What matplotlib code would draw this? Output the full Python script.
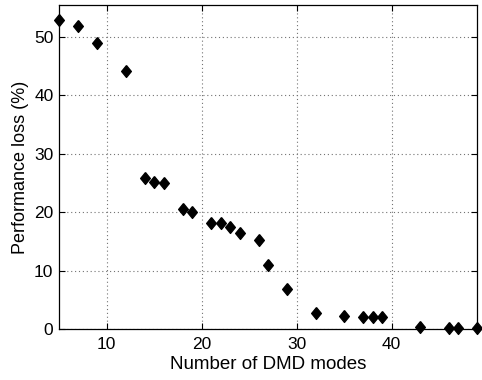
import numpy as np
import matplotlib
matplotlib.use("Agg")
import matplotlib.pyplot as plt

plt.rcParams['font.family'] = ['Liberation Sans', 'DejaVu Sans']

# number of retained DMD modes and the resulting performance loss
n_modes = [5, 7, 9, 12, 14, 15, 16, 18, 19, 21, 22, 23, 24, 26, 27, 29,
           32, 35, 37, 38, 39, 43, 46, 47, 49]
perf_loss = [52.8, 51.8, 49.0, 44.1, 25.9, 25.2, 25.0, 20.5, 20.0, 18.1,
             18.1, 17.4, 16.5, 15.2, 11.0, 6.8, 2.8, 2.2, 2.0, 2.0, 2.0,
             0.4, 0.2, 0.2, 0.1]

# MATLAB-like diamond, slightly taller than wide
diamond = [(0, 1), (0.82, 0), (0, -1), (-0.82, 0), (0, 1)]

fig = plt.figure(figsize=(4.82, 3.8), dpi=100)
ax = fig.add_axes([0.1224, 0.134, 0.8676, 0.8536])

ax.plot(n_modes, perf_loss, linestyle='none', marker=diamond,
        markersize=8.5, color='black', clip_on=False, zorder=5)

ax.set_xlim(5, 49)
ax.set_ylim(0, 55.5)
ax.set_xticks([10, 20, 30, 40])
ax.set_yticks([0, 10, 20, 30, 40, 50])

ax.grid(True, color='0.45', linestyle=(0, (1, 2.5)), linewidth=0.8)
ax.tick_params(direction='in', top=True, right=True, labelsize=12.5,
               length=4, width=0.8)
ax.tick_params(axis='x', pad=5.5)
ax.tick_params(axis='y', pad=4)
for sp in ax.spines.values():
    sp.set_linewidth(0.9)

ax.set_xlabel('Number of DMD modes', fontsize=13.5, labelpad=3)
ax.set_ylabel('Performance loss (%)', fontsize=13, labelpad=4)

fig.savefig('out.png', dpi=100)
